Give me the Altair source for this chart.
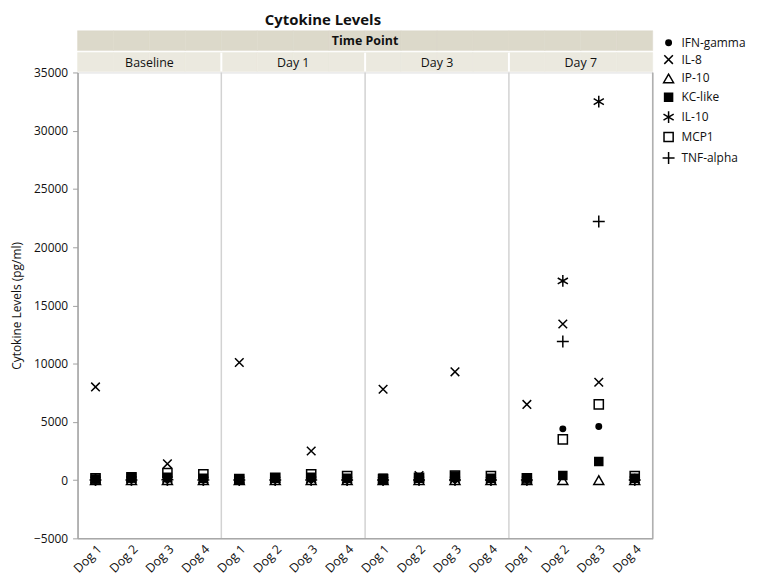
import altair as alt
import pandas as pd

# ---------------- data ----------------
time_points = ["Baseline", "Day 1", "Day 3", "Day 7"]
dogs = ["Dog 1", "Dog 2", "Dog 3", "Dog 4"]
cytokines = ["IFN-gamma", "IL-8", "IP-10", "KC-like", "IL-10", "MCP1", "TNF-alpha"]

# order: Baseline D1-D4, Day 1 D1-D4, Day 3 D1-D4, Day 7 D1-D4
ifn_gamma = [20, 30, 40, 20, 20, 20, 30, 20, 20, 30, 40, 20, 30, 4400, 4600, 30]
il_8 = [8000, 150, 1400, 100, 10100, 100, 2500, 100, 7800, 400, 9300, 100, 6500, 13400, 8400, 100]
ip_10 = [0, 0, 0, 0, 0, 0, 0, 0, 0, 0, 0, 0, 0, 0, 0, 0]
kc_like = [100, 200, 250, 150, 100, 150, 250, 150, 150, 200, 350, 150, 200, 400, 1600, 150]
il_10 = [30, 40, 50, 30, 30, 30, 40, 30, 30, 50, 50, 30, 50, 17100, 32500, 40]
mcp1 = [150, 250, 600, 500, 100, 200, 500, 350, 100, 200, 400, 350, 150, 3500, 6500, 350]
tnf_alpha = [20, 20, 30, 20, 20, 20, 20, 20, 20, 20, 20, 20, 20, 11900, 22200, 20]

series = [ifn_gamma, il_8, ip_10, kc_like, il_10, mcp1, tnf_alpha]

keys = [f"{tp}|{d}" for tp in time_points for d in dogs]

rows = []
for name, vals in zip(cytokines, series):
    for k, v in zip(keys, vals):
        rows.append({"key": k, "cytokine": name, "value": v})
df = pd.DataFrame(rows)

keys_df = pd.DataFrame({"key": keys})
bound_df = pd.DataFrame({"key": [f"{tp}|Dog 1" for tp in time_points[1:]]})
right_df = pd.DataFrame({"key": [keys[-1]]})
panel_df = pd.DataFrame({"key": [f"{tp}|Dog 2" for tp in time_points], "label": time_points})
tp_df = pd.DataFrame({"key": ["Day 3|Dog 1"], "label": ["Time Point"]})
title_df = pd.DataFrame({"label": ["Cytokine Levels"]})

# ---------------- styling ----------------
W, H = 579, 469
FONT = "Open Sans"

xscale = alt.Scale(type="band", domain=keys, paddingInner=0, paddingOuter=0)
xaxis = alt.Axis(
    title=None, labelExpr="split(datum.label, '|')[1]", labelAngle=-45,
    labelFontSize=12.5, labelColor="#111", ticks=False, labelPadding=4,
    domainColor="#a8a8a8", domainWidth=1.5, labelFont=FONT,
)


def xenc(field="key", band=None):
    if band is None:
        return alt.X(f"{field}:N", scale=xscale, axis=xaxis)
    return alt.X(f"{field}:N", scale=xscale, axis=xaxis, bandPosition=band)


yscale = alt.Scale(domain=[-5000, 35000], nice=False, zero=False)
yaxis = alt.Axis(
    title="Cytokine Levels (pg/ml)", values=list(range(-5000, 35001, 5000)),
    format="d", grid=False, labelFontSize=12, labelColor="#111", labelFont=FONT,
    domainColor="#a0a0a0", domainWidth=1.5, tickColor="#a0a0a0", tickSize=5,
    titleFontSize=12, titleFont=FONT, titleFontWeight="normal", titleColor="#111",
    titleX=-54, titleY=H / 2, labelPadding=5,
)

band_top = alt.Chart(keys_df).mark_rect(color="#dcd9ca", stroke="#dcd9ca", strokeWidth=0.5).encode(
    x=xenc(), y=alt.value(-42), y2=alt.value(-22)
)
band_panel = alt.Chart(keys_df).mark_rect(color="#ebe9df", stroke="#ebe9df", strokeWidth=0.5).encode(
    x=xenc(), y=alt.value(-20), y2=alt.value(-1)
)
white_sep = alt.Chart(bound_df).mark_rule(color="white", strokeWidth=2).encode(
    x=xenc(band=0), y=alt.value(-20), y2=alt.value(-1)
)
gray_sep = alt.Chart(bound_df).mark_rule(color="#d2d2d2", strokeWidth=1.5).encode(
    x=xenc(band=0), y=alt.datum(35000), y2=alt.datum(-5000)
)
right_border = alt.Chart(right_df).mark_rule(color="#b0b0b0", strokeWidth=1.5).encode(
    x=xenc(band=1), y=alt.datum(35000), y2=alt.datum(-5000)
)
panel_text = alt.Chart(panel_df).mark_text(font=FONT, fontSize=12.5, color="#111", baseline="middle").encode(
    x=xenc(band=1), y=alt.value(-10), text="label:N"
)
tp_text = alt.Chart(tp_df).mark_text(font=FONT, fontSize=12.5, fontWeight="bold", color="#111", baseline="middle").encode(
    x=xenc(band=0), y=alt.value(-32), text="label:N"
)
title_text = alt.Chart(title_df).mark_text(font=FONT, fontSize=15, fontWeight="bold", color="#111", baseline="middle").encode(
    x=alt.value(247), y=alt.value(-53), text="label:N"
)

x_path = "M-1,-1L1,1M-1,1L1,-1"
plus_path = "M-1,0L1,0M0,-1L0,1"
ast_path = "M0,-1L0,1M-0.866,-0.5L0.866,0.5M-0.866,0.5L0.866,-0.5"

shape_range = ["circle", x_path, "triangle-up", "square", ast_path, "square", plus_path]
fill_range = ["black", "transparent", "transparent", "black", "transparent", "transparent", "transparent"]
stroke_range = ["black"] * 7
size_range = [30, 75, 100, 65, 140, 85, 145]

legend = alt.Legend(
    title=None, orient="none", legendX=588, legendY=-36, labelFontSize=12,
    labelFont=FONT, labelColor="#111", symbolStrokeWidth=1.5,
    symbolStrokeColor="black", rowPadding=3, labelOffset=6,
)

points = alt.Chart(df).mark_point(filled=False, strokeWidth=1.5, opacity=1).encode(
    x=xenc(),
    y=alt.Y("value:Q", scale=yscale, axis=yaxis),
    shape=alt.Shape("cytokine:N", scale=alt.Scale(domain=cytokines, range=shape_range), legend=legend),
    fill=alt.Fill("cytokine:N", scale=alt.Scale(domain=cytokines, range=fill_range), legend=legend),
    stroke=alt.Stroke("cytokine:N", scale=alt.Scale(domain=cytokines, range=stroke_range), legend=legend),
    size=alt.Size("cytokine:N", scale=alt.Scale(type="ordinal", domain=cytokines, range=size_range), legend=legend),
)

chart = alt.layer(
    band_top, band_panel, white_sep, gray_sep, right_border,
    panel_text, tp_text, title_text, points
).properties(
    width=W, height=H,
    autosize=alt.AutoSizeParams(type="none"),
    padding={"left": 70, "top": 63, "right": 105, "bottom": 36},
).configure_view(stroke=None).configure(background="white")

chart.save("out.html", embed_options={"renderer": "svg", "actions": False})
